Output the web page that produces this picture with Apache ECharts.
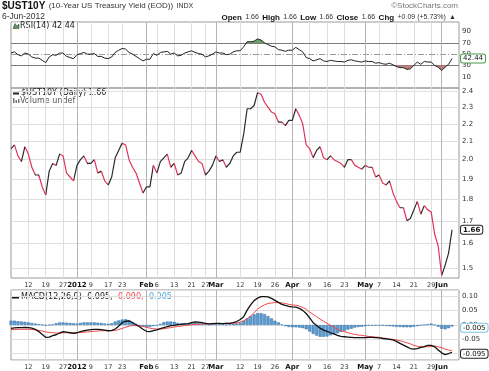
<!DOCTYPE html>
<html><head><meta charset="utf-8">
<script src="https://cdn.jsdelivr.net/npm/echarts@6/dist/echarts.min.js"></script>
<style>html,body{margin:0;padding:0;background:#fff}#c{width:489px;height:371px}</style>
</head><body><div id="c"></div>
<script>
const dates = ['2011-12-05','2011-12-06','2011-12-07','2011-12-08','2011-12-09','2011-12-12','2011-12-13','2011-12-14','2011-12-15','2011-12-16','2011-12-19','2011-12-20','2011-12-21','2011-12-22','2011-12-23','2011-12-27','2011-12-28','2011-12-29','2011-12-30',
'2012-01-03','2012-01-04','2012-01-05','2012-01-06','2012-01-09','2012-01-10','2012-01-11','2012-01-12','2012-01-13','2012-01-17','2012-01-18','2012-01-19','2012-01-20','2012-01-23','2012-01-24','2012-01-25','2012-01-26','2012-01-27','2012-01-30','2012-01-31',
'2012-02-01','2012-02-02','2012-02-03','2012-02-06','2012-02-07','2012-02-08','2012-02-09','2012-02-10','2012-02-13','2012-02-14','2012-02-15','2012-02-16','2012-02-17','2012-02-21','2012-02-22','2012-02-23','2012-02-24','2012-02-27','2012-02-28','2012-02-29',
'2012-03-01','2012-03-02','2012-03-05','2012-03-06','2012-03-07','2012-03-08','2012-03-09','2012-03-12','2012-03-13','2012-03-14','2012-03-15','2012-03-16','2012-03-19','2012-03-20','2012-03-21','2012-03-22','2012-03-23','2012-03-26','2012-03-27','2012-03-28','2012-03-29','2012-03-30',
'2012-04-02','2012-04-03','2012-04-04','2012-04-05','2012-04-06','2012-04-09','2012-04-10','2012-04-11','2012-04-12','2012-04-13','2012-04-16','2012-04-17','2012-04-18','2012-04-19','2012-04-20','2012-04-23','2012-04-24','2012-04-25','2012-04-26','2012-04-27','2012-04-30',
'2012-05-01','2012-05-02','2012-05-03','2012-05-04','2012-05-07','2012-05-08','2012-05-09','2012-05-10','2012-05-11','2012-05-14','2012-05-15','2012-05-16','2012-05-17','2012-05-18','2012-05-21','2012-05-22','2012-05-23','2012-05-24','2012-05-25','2012-05-29','2012-05-30','2012-05-31',
'2012-06-01','2012-06-04','2012-06-05','2012-06-06'];

const price = [2.06,2.08,2.02,1.99,2.07,2.03,1.96,1.92,1.92,1.86,1.82,1.94,1.98,1.97,2.03,2.02,1.93,1.91,1.89,
1.97,2.00,2.02,1.98,1.98,2.00,1.93,1.94,1.89,1.87,1.91,2.01,2.05,2.09,2.08,2.00,1.96,1.93,1.88,1.83,
1.86,1.86,1.97,1.93,1.99,2.01,2.03,1.96,1.98,1.92,1.93,1.99,2.01,2.05,2.02,1.99,1.98,1.92,1.94,1.97,
2.02,1.99,2.00,1.96,1.98,2.02,2.04,2.04,2.14,2.29,2.29,2.31,2.39,2.38,2.33,2.30,2.27,2.26,2.21,2.21,2.19,2.22,
2.22,2.29,2.25,2.20,2.08,2.06,2.01,2.05,2.07,2.01,2.00,2.02,2.00,1.99,1.98,1.96,2.00,2.00,1.97,1.96,1.95,
1.97,1.96,1.96,1.91,1.92,1.88,1.87,1.89,1.83,1.79,1.76,1.76,1.70,1.71,1.75,1.79,1.73,1.77,1.75,1.74,1.64,1.59,
1.47,1.51,1.56,1.66];

const rsi = [52,54,49,47,52,50,45,43,43,39,35,45,49,48,52,52,46,44,42,
49,51,53,50,50,51,46,46,43,42,45,53,57,60,59,53,50,46,42,38,
41,41,51,48,53,54,55,50,52,47,48,52,54,56,53,51,50,45,47,50,
54,52,52,49,50,54,56,56,63,72,72,73,77,75,70,67,64,63,58,57,55,57,
57,62,58,54,44,42,38,40,42,38,37,39,38,37,37,36,39,40,38,37,36,
38,37,37,34,35,33,32,34,31,28,26,26,23,24,30,36,32,37,36,36,30,27,
21,27,32,42.44];

const macd = [-0.012,-0.010,-0.009,-0.009,-0.008,-0.009,-0.011,-0.015,-0.023,-0.033,-0.043,-0.042,-0.037,-0.034,-0.028,-0.023,-0.025,-0.027,-0.029,
-0.027,-0.023,-0.020,-0.018,-0.016,-0.015,-0.015,-0.016,-0.018,-0.020,-0.019,-0.014,-0.004,0.008,0.013,0.014,0.008,0.001,-0.006,-0.015,
-0.022,-0.023,-0.020,-0.017,-0.013,-0.009,-0.006,-0.002,-0.001,0.001,0.002,0.004,0.005,0.008,0.011,0.010,0.008,0.006,0.004,0.005,
0.006,0.006,0.005,0.006,0.006,0.008,0.012,0.019,0.029,0.052,0.070,0.085,0.094,0.099,0.099,0.098,0.093,0.086,0.079,0.072,0.068,0.065,
0.063,0.062,0.058,0.051,0.040,0.025,0.008,-0.002,-0.011,-0.018,-0.022,-0.027,-0.031,-0.036,-0.040,-0.041,-0.042,-0.043,-0.044,-0.044,-0.044,
-0.044,-0.043,-0.043,-0.044,-0.045,-0.047,-0.048,-0.050,-0.052,-0.057,-0.064,-0.070,-0.076,-0.082,-0.084,-0.082,-0.078,-0.075,-0.071,-0.071,-0.076,-0.087,
-0.097,-0.103,-0.100,-0.095];

const signal = [-0.016,-0.016,-0.015,-0.015,-0.015,-0.015,-0.016,-0.017,-0.019,-0.021,-0.024,-0.026,-0.027,-0.028,-0.028,-0.027,-0.027,-0.027,-0.027,
-0.027,-0.026,-0.025,-0.024,-0.023,-0.022,-0.021,-0.020,-0.020,-0.020,-0.020,-0.019,-0.016,-0.012,-0.008,-0.004,-0.002,-0.002,-0.003,-0.005,
-0.008,-0.011,-0.013,-0.014,-0.014,-0.013,-0.011,-0.009,-0.007,-0.005,-0.004,-0.002,-0.001,0.001,0.002,0.003,0.004,0.004,0.004,0.005,
0.005,0.005,0.005,0.006,0.006,0.006,0.007,0.010,0.014,0.022,0.031,0.043,0.055,0.064,0.070,0.075,0.077,0.078,0.078,0.077,0.075,0.072,
0.070,0.069,0.066,0.061,0.055,0.045,0.037,0.029,0.021,0.013,0.006,-0.001,-0.008,-0.015,-0.020,-0.023,-0.027,-0.030,-0.033,-0.035,-0.036,
-0.038,-0.040,-0.041,-0.042,-0.043,-0.045,-0.047,-0.049,-0.050,-0.052,-0.055,-0.058,-0.062,-0.066,-0.071,-0.074,-0.076,-0.076,-0.076,-0.075,-0.073,-0.076,
-0.079,-0.084,-0.087,-0.090];

const hist = [0.015,0.015,0.013,0.012,0.011,0.009,0.007,0.005,0.003,0.001,-0.002,0.000,0.002,0.006,0.009,0.009,0.008,0.007,0.006,
0.005,0.007,0.009,0.009,0.009,0.009,0.008,0.007,0.005,0.004,0.006,0.012,0.016,0.019,0.020,0.017,0.010,0.004,-0.002,-0.006,
-0.007,-0.006,-0.004,-0.002,0.004,0.010,0.012,0.012,0.011,0.007,0.006,0.006,0.006,0.007,0.008,0.007,0.005,0.003,0.002,0.003,
0.004,0.003,0.003,0.002,0.003,0.004,0.005,0.008,0.015,0.023,0.031,0.037,0.041,0.041,0.038,0.031,0.023,0.015,0.009,0.002,-0.004,-0.007,
-0.008,-0.008,-0.009,-0.011,-0.015,-0.023,-0.031,-0.037,-0.041,-0.041,-0.040,-0.036,-0.033,-0.029,-0.024,-0.020,-0.016,-0.013,-0.009,-0.007,-0.006,
-0.004,-0.002,-0.002,-0.002,-0.002,-0.002,-0.003,-0.004,-0.005,-0.006,-0.007,-0.008,-0.008,-0.008,-0.006,-0.004,-0.001,0.001,0.003,0.005,0.001,-0.006,
-0.013,-0.015,-0.011,-0.005];

const tickDates = ['2011-12-12','2011-12-19','2011-12-27','2012-01-03','2012-01-09','2012-01-17','2012-01-23','2012-02-01','2012-02-06','2012-02-13','2012-02-21','2012-02-27','2012-03-01','2012-03-12','2012-03-19','2012-03-26','2012-04-02','2012-04-09','2012-04-16','2012-04-23','2012-05-01','2012-05-07','2012-05-14','2012-05-21','2012-05-29','2012-06-01'];
const tickTexts = ['12','19','27','2012','9','17','23','Feb','6','13','21','27','Mar','12','19','26','Apr','9','16','23','May','7','14','21','29','Jun'];
const monthDates = ['2012-01-03','2012-02-01','2012-03-01','2012-04-02','2012-05-01','2012-06-01'];
const priceTicks = [1.5,1.6,1.7,1.8,1.9,2.0,2.1,2.2,2.3,2.4];
const rsiLevels = [30,50,70];
const lastRsi = 42.44, lastPrice = 1.66, lastMacd = -0.095, lastSignal = -0.090, lastHist = -0.005;

const tickMap = {};
tickDates.forEach((d, i) => { tickMap[d] = tickTexts[i]; });
const cats = dates.concat([' ', '  ']);
const FONT = 'DejaVu Sans';
const RED = '#e0335a', DARK = '#2a2a2a';
const GRID_C = '#dedede';

function xAx(g, showLabel) {
  return {
    type: 'category', gridIndex: g, data: cats, boundaryGap: false,
    axisLine: {show: false}, axisTick: {show: false},
    axisLabel: {
      show: showLabel, margin: 4, fontSize: 6.5, fontFamily: FONT, color: '#333', hideOverlap: false,
      interval: (i, v) => tickMap[v] !== undefined,
      formatter: v => monthDates.indexOf(v) >= 0 ? '{b|' + tickMap[v] + '}' : (tickMap[v] || ''),
      rich: {b: {fontWeight: 'bold', fontSize: 7, fontFamily: FONT, color: '#111'}}
    },
    splitLine: {show: true, interval: (i, v) => tickMap[v] !== undefined, lineStyle: {color: GRID_C, width: 1}}
  };
}
const monthLines = monthDates.map(d => ({xAxis: d, lineStyle: {color: '#b4b4b4', width: 1, type: 'solid'}}));
function tag(v, border, bold) {
  return {yAxis: v, lineStyle: {color: 'rgba(0,0,0,0)', width: 0},
    label: {show: true, position: 'end', distance: 2, formatter: String(v), fontFamily: FONT, fontSize: 7,
      fontWeight: bold ? 'bold' : 'normal', color: '#111', backgroundColor: '#fff', borderColor: border,
      borderWidth: 1, borderRadius: 2, padding: [1, 2, 0, 2]}};
}
const mlBase = {silent: true, symbol: ['none', 'none'], z: 1, animation: false, label: {show: false},
  lineStyle: {width: 1, type: 'solid'}};

// down segments coloured red
const downPieces = [];
for (let i = 0; i < price.length - 1; i++) {
  if (price[i + 1] < price[i]) {
    const last = downPieces[downPieces.length - 1];
    if (last && last.lte === i) last.lte = i + 1;
    else downPieces.push({gte: i, lte: i + 1, color: RED});
  }
}

const yLabel = {fontSize: 7, fontFamily: FONT, color: '#333', margin: 3};
const legendBg = '#fff';

const option = {
  animation: false,
  backgroundColor: '#fff',
  grid: [
    {left: 11, top: 22, width: 448, height: 66, show: true, borderColor: '#999', borderWidth: 1},
    {left: 11, top: 88, width: 448, height: 190, show: true, borderColor: '#999', borderWidth: 1},
    {left: 11, top: 290, width: 448, height: 70, show: true, borderColor: '#999', borderWidth: 1}
  ],
  xAxis: [xAx(0, false), xAx(1, true), xAx(2, true)],
  yAxis: [
    {type: 'value', gridIndex: 0, position: 'right', min: -10, max: 107, interval: 20,
     axisLine: {show: false}, axisTick: {show: false}, splitLine: {show: false},
     axisLabel: Object.assign({showMinLabel: false, showMaxLabel: false}, yLabel)},
    {type: 'log', gridIndex: 1, position: 'right', min: 1.46, max: 2.42,
     axisLine: {show: false}, axisTick: {show: false}, splitLine: {show: false},
     axisLabel: Object.assign({customValues: priceTicks, formatter: v => Number(v).toFixed(1)}, yLabel)},
    {type: 'value', gridIndex: 2, position: 'right', min: -0.122, max: 0.122,
     axisLine: {show: false}, axisTick: {show: false}, splitLine: {show: true, lineStyle: {color: GRID_C}},
     axisLabel: Object.assign({showMinLabel: false, showMaxLabel: false, formatter: v => Number(v).toFixed(2)}, yLabel)}
  ],
  visualMap: [
    {type: 'piecewise', show: false, seriesIndex: 0, dimension: 1,
     pieces: [{lt: 30, color: '#b07470'}, {gte: 30, lte: 70, color: 'rgba(255,255,255,0)'}, {gt: 70, color: '#5a955a'}]},
    {type: 'piecewise', show: false, seriesIndex: 2, dimension: 0, pieces: downPieces, outOfRange: {color: DARK}}
  ],
  series: [
    {name: 'rsiFill', type: 'line', xAxisIndex: 0, yAxisIndex: 0, data: rsi, showSymbol: false, silent: true,
     lineStyle: {width: 0, opacity: 0}, areaStyle: {origin: 50, opacity: 0.9}, z: 2},
    {name: 'RSI(14)', type: 'line', xAxisIndex: 0, yAxisIndex: 0, data: rsi, showSymbol: false, silent: true,
     lineStyle: {color: '#222', width: 1}, z: 3,
     markLine: Object.assign({}, mlBase, {data: [
       {yAxis: rsiLevels[2], lineStyle: {color: '#7a7a7a', width: 1}},
       {yAxis: rsiLevels[0], lineStyle: {color: '#7a7a7a', width: 1}},
       {yAxis: rsiLevels[1], lineStyle: {color: '#9a9a9a', width: 1, type: [6, 2, 1, 2]}}
     ].concat(monthLines, [tag(lastRsi, '#4a9a4a', false)])})},
    {name: '$UST10Y', type: 'line', xAxisIndex: 1, yAxisIndex: 1, data: price, showSymbol: false, silent: true,
     lineStyle: {width: 1.2}, z: 3,
     markLine: Object.assign({}, mlBase, {data: priceTicks.map(v => ({yAxis: v, lineStyle: {color: GRID_C, width: 1}}))
       .concat(monthLines, [tag(lastPrice, '#222', true)])})},
    {name: 'hist', type: 'bar', xAxisIndex: 2, yAxisIndex: 2, data: hist, barWidth: 3, silent: true,
     itemStyle: {color: '#5b9bd2', borderColor: '#2f6ea6', borderWidth: 0.5}, z: 2,
     markLine: Object.assign({}, mlBase, {data: monthLines.concat([tag(lastHist, '#7cc4ea', false), tag(lastMacd, '#222', false)])})},
    {name: 'signal', type: 'line', xAxisIndex: 2, yAxisIndex: 2, data: signal, showSymbol: false, silent: true,
     lineStyle: {color: '#f04848', width: 1}, z: 3},
    {name: 'MACD', type: 'line', xAxisIndex: 2, yAxisIndex: 2, data: macd, showSymbol: false, silent: true,
     lineStyle: {color: '#111', width: 1.3}, z: 4}
  ],
  graphic: [
    {type: 'text', left: 2, top: 0, style: {
      text: '{a|$UST10Y} {b|(10-Year US Treasury Yield (EOD))} {c|INDX}',
      rich: {a: {font: 'bold 10px "Liberation Sans"', fill: '#111'},
             b: {font: '8px "Liberation Sans"', fill: '#333'},
             c: {font: '7px "Liberation Sans"', fill: '#333'}}}},
    {type: 'text', right: 31, top: 2, style: {text: '\u00a9StockCharts.com', font: '8px "Liberation Sans"', fill: '#777'}},
    {type: 'text', left: 2, top: 12, style: {text: '6-Jun-2012', font: '8.5px "Liberation Sans"', fill: '#333'}},
    {type: 'text', right: 33, top: 11.5, style: {
      text: '{k|Open} {v|1.66} {k|High} {v|1.66} {k|Low} {v|1.66} {k|Close} {v|1.66} {k|Chg} {v|+0.09 (+5.73%)} {v|\u25b2}',
      rich: {k: {font: 'bold 8px "Liberation Sans"', fill: '#111'}, v: {font: '7px "Liberation Sans"', fill: '#333'}}}},
    {type: 'group', z: 50, children: [
      {type: 'rect', shape: {x: 12, y: 22.5, width: 66, height: 8}, style: {fill: legendBg}},
      {type: 'polygon', shape: {points: [[13, 28.5], [15, 23.5], [17, 26], [19, 24], [19, 28.5]]}, style: {fill: '#5a955a', stroke: '#333', lineWidth: 0.5}},
      {type: 'text', left: 20, top: 22, style: {text: 'RSI(14) ' + lastRsi, font: '8px "DejaVu Sans"', fill: '#222'}},
      {type: 'rect', shape: {x: 12, y: 89, width: 95, height: 15.5}, style: {fill: legendBg}},
      {type: 'line', shape: {x1: 13, y1: 93.5, x2: 19, y2: 93.5}, style: {stroke: '#222', lineWidth: 2}},
      {type: 'text', left: 21, top: 89, style: {text: '$UST10Y (Daily) ' + lastPrice, font: '8px "DejaVu Sans"', fill: '#222'}},
      {type: 'rect', shape: {x: 13, y: 98, width: 1.5, height: 5}, style: {fill: '#777'}},
      {type: 'rect', shape: {x: 15.5, y: 100, width: 1.5, height: 3}, style: {fill: '#777'}},
      {type: 'rect', shape: {x: 18, y: 99, width: 1.5, height: 4}, style: {fill: '#777'}},
      {type: 'text', left: 20, top: 96.5, style: {text: 'Volume undef', font: '8px "DejaVu Sans"', fill: '#555'}},
      {type: 'rect', shape: {x: 12, y: 292.5, width: 162, height: 9}, style: {fill: legendBg}},
      {type: 'line', shape: {x1: 12, y1: 297.5, x2: 19, y2: 297.5}, style: {stroke: '#111', lineWidth: 2}},
      {type: 'text', left: 21, top: 293, style: {
        text: '{k|MACD(12,26,9) ' + lastMacd.toFixed(3) + ', }{r|' + lastSignal.toFixed(3) + ', }{b|' + lastHist.toFixed(3) + '}',
        rich: {k: {font: '8px "DejaVu Sans"', fill: '#222'}, r: {font: '8px "DejaVu Sans"', fill: '#f04848'}, b: {font: '8px "DejaVu Sans"', fill: '#4aa8dc'}}}}
    ]}
  ]
};
const chart = echarts.init(document.getElementById('c'), null, {width: 489, height: 371});
chart.setOption(option);
</script>
</body></html>
